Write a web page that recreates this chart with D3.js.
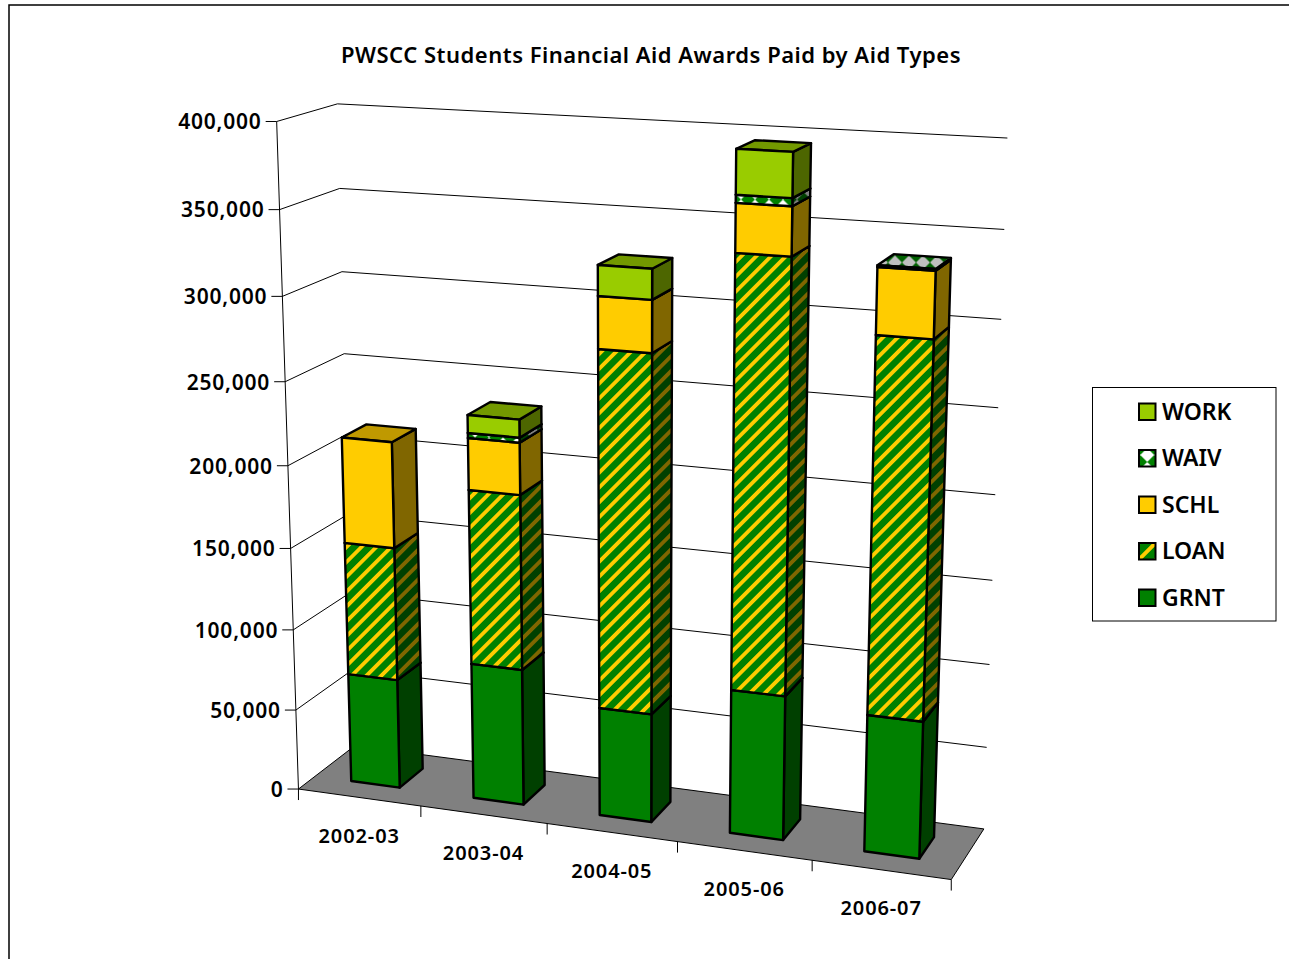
<!DOCTYPE html>
<html>
<head>
<meta charset="utf-8">
<script src="https://cdn.jsdelivr.net/npm/d3@7"></script>
<style>
  html, body { margin: 0; background: #fff; }
  text { font-family: "Noto Sans", sans-serif; font-weight: 600; fill: #000; }
</style>
</head>
<body>
<div id="container"></div>
<script>
/* DATA */
const years = ["2002-03", "2003-04", "2004-05", "2005-06", "2006-07"];
const GRNT = [68000, 83700, 66200, 86800, 81600];
const LOAN = [81500, 105600, 212300, 251300, 216800];
const SCHL = [64000, 30900, 30200, 27500, 37200];
const WAIV = [0, 3000, 0, 4400, 1000];
const WORK = [0, 10600, 17500, 25000, 0];
const seriesNames = ["GRNT", "LOAN", "SCHL", "WAIV", "WORK"];

/* CONSTANTS AND GLOBALS */
const width = 1289;
const height = 959;

// where the corners of the chart box land on the page: [u, value share, w, x, y]
const cameraPoints = [
  [0, 0, 0, 298, 790], [1, 0, 0, 951, 880], [1, 0, 1, 983, 829], [0, 0, 1, 354, 746],
  [0, 1, 0, 276, 122], [0, 1, 1, 338, 104], [1, 1, 1, 1008, 138],
  [0, .125, 0, 297, 710], [0, .25, 0, 294, 629], [0, .375, 0, 291, 548], [0, .5, 0, 288, 466],
  [0, .625, 0, 285, 381], [0, .75, 0, 282, 296], [0, .875, 0, 279, 210],
  [1, .125, 1, 987, 747], [1, .25, 1, 990, 664], [1, .375, 1, 993, 580], [1, .5, 1, 995, 495],
  [1, .625, 1, 998, 408], [1, .75, 1, 1001, 320], [1, .875, 1, 1004, 229]
];

// least squares fit of a projective camera
function fitCamera(points) {
  const n = 11;
  const A = d3.range(n).map(() => new Array(n + 1).fill(0));
  const addRow = (row, rhs) => {
    for (let i = 0; i < n; i++) {
      for (let j = 0; j < n; j++) A[i][j] += row[i] * row[j];
      A[i][n] += row[i] * rhs;
    }
  };
  points.forEach(([X, Y, Z, x, y]) => {
    addRow([X, Y, Z, 1, 0, 0, 0, 0, -x * X, -x * Y, -x * Z], x);
    addRow([0, 0, 0, 0, X, Y, Z, 1, -y * X, -y * Y, -y * Z], y);
  });
  for (let c = 0; c < n; c++) {
    let best = c;
    for (let r = c + 1; r < n; r++) if (Math.abs(A[r][c]) > Math.abs(A[best][c])) best = r;
    [A[c], A[best]] = [A[best], A[c]];
    for (let r = 0; r < n; r++) {
      if (r === c) continue;
      const f = A[r][c] / A[c][c];
      for (let k = c; k <= n; k++) A[r][k] -= f * A[c][k];
    }
  }
  return A.map((row, i) => row[n] / row[i]);
}

const p = fitCamera(cameraPoints);
const project = (u, v, w) => {
  const d = p[8] * u + p[9] * v + p[10] * w + 1;
  return [(p[0] * u + p[1] * v + p[2] * w + p[3]) / d, (p[4] * u + p[5] * v + p[6] * w + p[7]) / d];
};

// + SCALES
const xScale = d3.scaleBand().domain(years).range([0, 1]).paddingInner(.6).paddingOuter(.3);
const yScale = d3.scaleLinear().domain([0, 400000]).range([0, 1]);
const zScale = d3.scaleLinear().domain([0, 1]).range([.29, .72]);

// CREATE SVG ELEMENT
const svg = d3.select("#container")
  .append("svg")
  .attr("width", width)
  .attr("height", height)
  .style("display", "block");

const defs = svg.append("defs");

function stripes(id, base, stripe, period, size, transform) {
  const pat = defs.append("pattern").attr("id", id)
    .attr("width", period).attr("height", period)
    .attr("patternUnits", "userSpaceOnUse")
    .attr("patternTransform", transform);
  pat.append("rect").attr("width", period).attr("height", period).attr("fill", base);
  pat.append("rect").attr("width", size).attr("height", period).attr("fill", stripe);
}
function diamonds(id, base, mark, transform) {
  const pat = defs.append("pattern").attr("id", id)
    .attr("width", 14).attr("height", 14)
    .attr("patternUnits", "userSpaceOnUse")
    .attr("patternTransform", transform);
  pat.append("rect").attr("width", 14).attr("height", 14).attr("fill", base);
  pat.append("path").attr("d", "M7,0L14,7L7,14L0,7Z").attr("fill", mark);
}
stripes("loanFront", "#008000", "#FFCC00", 10.5, 3.8, "rotate(45)");
stripes("loanSide", "#004000", "#806600", 10.5, 3.8, "rotate(45)");
stripes("loanTop", "#006000", "#BF9900", 10.5, 3.8, "rotate(45)");
stripes("loanKey", "#008000", "#FFCC00", 12, 4, "translate(8.25,.25) rotate(45) translate(-2,0)");
diamonds("waivFront", "#FFFFFF", "#008000", "translate(-1,-3.5)");
diamonds("waivSide", "#808080", "#004000", "translate(-1,-3.5)");
diamonds("waivTop", "#BFBFBF", "#006000", "translate(-1,-3.5)");
diamonds("waivKey", "#FFFFFF", "#008000", "translate(8.25,-3)");

const frontFill = ["#008000", "url(#loanFront)", "#FFCC00", "url(#waivFront)", "#99CC00"];
const sideFill = ["#004000", "url(#loanSide)", "#806600", "url(#waivSide)", "#4D6600"];
const topFill = ["#006000", "url(#loanTop)", "#BF9900", "url(#waivTop)", "#739900"];
const keyFill = ["#008000", "url(#loanKey)", "#FFCC00", "url(#waivKey)", "#99CC00"];

const poly = corners => d3.line()(corners.map(c => project(...c))) + "Z";

// OUTER FRAME
svg.append("path")
  .attr("d", `M9,${height}V5H${width}`)
  .attr("fill", "none").attr("stroke", "#000").attr("stroke-width", 1.5);

// TITLE
svg.append("text")
  .attr("x", 651).attr("y", 63)
  .attr("text-anchor", "middle")
  .style("font-size", "22px")
  .style("letter-spacing", ".5px")
  .text("PWSCC Students Financial Aid Awards Paid by Aid Types");

// FLOOR
svg.append("path")
  .attr("d", poly([[0, 0, 0], [1, 0, 0], [1, 0, 1], [0, 0, 1]]))
  .attr("fill", "#808080").attr("stroke", "#000");

// GRID AND Y AXIS
const ticks = yScale.ticks(8);
const gridGen = d3.line();
svg.selectAll(".grid")
  .data(ticks.slice(1))
  .join("path")
  .attr("class", "grid")
  .attr("fill", "none").attr("stroke", "#000")
  .attr("d", d => gridGen([project(0, yScale(d), 0), project(0, yScale(d), 1), project(1, yScale(d), 1)]));

svg.append("path")
  .attr("fill", "none").attr("stroke", "#000")
  .attr("d", gridGen([project(0, 1, 0), project(0, 0, 0)]));

const yTicks = svg.selectAll(".yTick").data(ticks).join("g")
  .attr("class", "yTick")
  .attr("transform", d => `translate(${project(0, yScale(d), 0)})`);
yTicks.append("line").attr("x1", -11).attr("x2", 0).attr("stroke", "#000");
yTicks.append("text").attr("x", -15).attr("y", .5).attr("dy", "0.35em")
  .attr("text-anchor", "end").style("font-size", "21px").style("letter-spacing", ".8px")
  .text(d3.format(","));

// X AXIS
const tickAt = d3.range(0, 6).map(i => i / 5);
svg.selectAll(".xTick").data(tickAt).join("path")
  .attr("class", "xTick").attr("stroke", "#000")
  .attr("d", d => { const [x, y] = project(d, 0, 0); return `M${x},${y}v11`; });
svg.selectAll(".xLabel").data(years).join("text")
  .attr("class", "xLabel")
  .attr("text-anchor", "middle").style("font-size", "20px").style("letter-spacing", ".9px")
  .attr("x", d => project(xScale(d) + xScale.bandwidth() / 2, 0, 0)[0])
  .attr("y", d => project(xScale(d) + xScale.bandwidth() / 2, 0, 0)[1] + 45.5)
  .text(d => d);

// BARS
const rows = years.map((year, i) => ({ year, GRNT: GRNT[i], LOAN: LOAN[i], SCHL: SCHL[i], WAIV: WAIV[i], WORK: WORK[i] }));
const stacked = d3.stack().keys(seriesNames)(rows);
const [z0, z1] = zScale.range();

years.forEach((year, i) => {
  const bar = svg.append("g").attr("class", "bar");
  const u0 = xScale(year), u1 = u0 + xScale.bandwidth();
  stacked.forEach((layer, s) => {
    if (layer[i][1] === layer[i][0]) return;
    const v0 = yScale(layer[i][0]), v1 = yScale(layer[i][1]);
    const faces = [
      { fill: sideFill[s], d: poly([[u1, v0, z0], [u1, v0, z1], [u1, v1, z1], [u1, v1, z0]]) },
      { fill: topFill[s], d: poly([[u0, v1, z0], [u1, v1, z0], [u1, v1, z1], [u0, v1, z1]]) },
      { fill: frontFill[s], d: poly([[u0, v0, z0], [u1, v0, z0], [u1, v1, z0], [u0, v1, z0]]) }
    ];
    bar.selectAll(null).data(faces).join("path")
      .attr("d", d => d.d).attr("fill", d => d.fill)
      .attr("stroke", "#000").attr("stroke-width", 2.4).attr("stroke-linejoin", "round");
  });
});

// LEGEND
const legend = svg.append("g");
legend.append("rect")
  .attr("x", 1092.5).attr("y", 387.5).attr("width", 183.5).attr("height", 233.5)
  .attr("fill", "#fff").attr("stroke", "#000");
const legendRows = legend.selectAll(".legendRow")
  .data(seriesNames.map((name, s) => ({ name, s })).reverse())
  .join("g").attr("class", "legendRow")
  .attr("transform", (d, i) => `translate(1139, ${411.5 + i * 46.5})`);
legendRows.append("rect").attr("y", -8).attr("width", 16.5).attr("height", 16.5)
  .attr("fill", d => keyFill[d.s]).attr("stroke", "#000").attr("stroke-width", 2);
legendRows.append("text").attr("x", 23).attr("dy", "0.36em").style("font-size", "23px")
  .text(d => d.name);
</script>
</body>
</html>
